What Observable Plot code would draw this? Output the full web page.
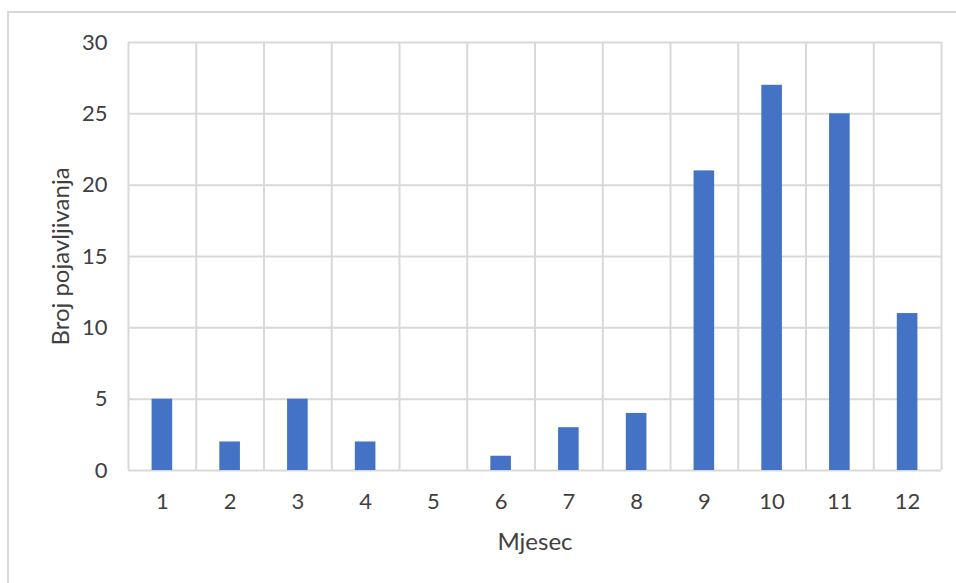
<!DOCTYPE html>
<html><head><meta charset="utf-8">
<script src="https://cdn.jsdelivr.net/npm/d3@7"></script>
<script src="https://cdn.jsdelivr.net/npm/@observablehq/plot@0.6"></script>
<style>
html,body{margin:0;padding:0;background:#fff;overflow:hidden}
#wrap{position:relative;width:956px;height:583px;overflow:hidden}
#border{position:absolute;left:7px;top:11px;width:1000px;height:1000px;border:2px solid #d9d9d9;box-sizing:border-box}
#chart{position:absolute;left:0;top:0}
</style></head><body>
<div id="wrap"><div id="border"></div><div id="chart"></div></div>
<script>
const months = [1,2,3,4,5,6,7,8,9,10,11,12];
const counts = [5,2,5,2,0,1,3,4,21,27,25,11];
const yTicks = [0,5,10,15,20,25,30];
const xTitle = "Mjesec";
const yTitle = "Broj pojavljivanja";

const data = months.map((m,i)=>({month:m,count:counts[i]}));
const boundaries = [months[0]-0.5, ...months.map(m=>m+0.5)];
const halfBar = 0.152;

const chart = Plot.plot({
  width:956, height:583, marginLeft:128, marginTop:42, marginRight:15, marginBottom:113,
  style:{fontFamily:"Lato, 'Open Sans', sans-serif", fontSize:"22px", color:"#404040", background:"transparent"},
  x:{type:"linear", domain:[0.5,12.5]},
  y:{domain:[0,30]},
  marks:[
    Plot.ruleY(yTicks, {stroke:"#d9d9d9", strokeWidth:2}),
    Plot.ruleX(boundaries, {stroke:"#d9d9d9", strokeWidth:2}),
    Plot.rectY(data, {x1: d=>d.month-halfBar, x2: d=>d.month+halfBar, y: "count", fill:"#4472C4"}),
    Plot.axisX({ticks: months, tickFormat: d=>String(d), tickSize:0, tickPadding:23, label:null, fontSize:22}),
    Plot.axisY({ticks: yTicks, tickSize:0, tickPadding:21, label:null, fontSize:22}),
    Plot.text([xTitle], {frameAnchor:"bottom", dy:62, lineAnchor:"top", textAnchor:"middle", fontSize:24}),
    Plot.text([yTitle], {frameAnchor:"left", rotate:-90, dx:-59.5, lineAnchor:"bottom", textAnchor:"middle", fontSize:24})
  ]
});
document.getElementById("chart").appendChild(chart);
</script>
</body></html>
